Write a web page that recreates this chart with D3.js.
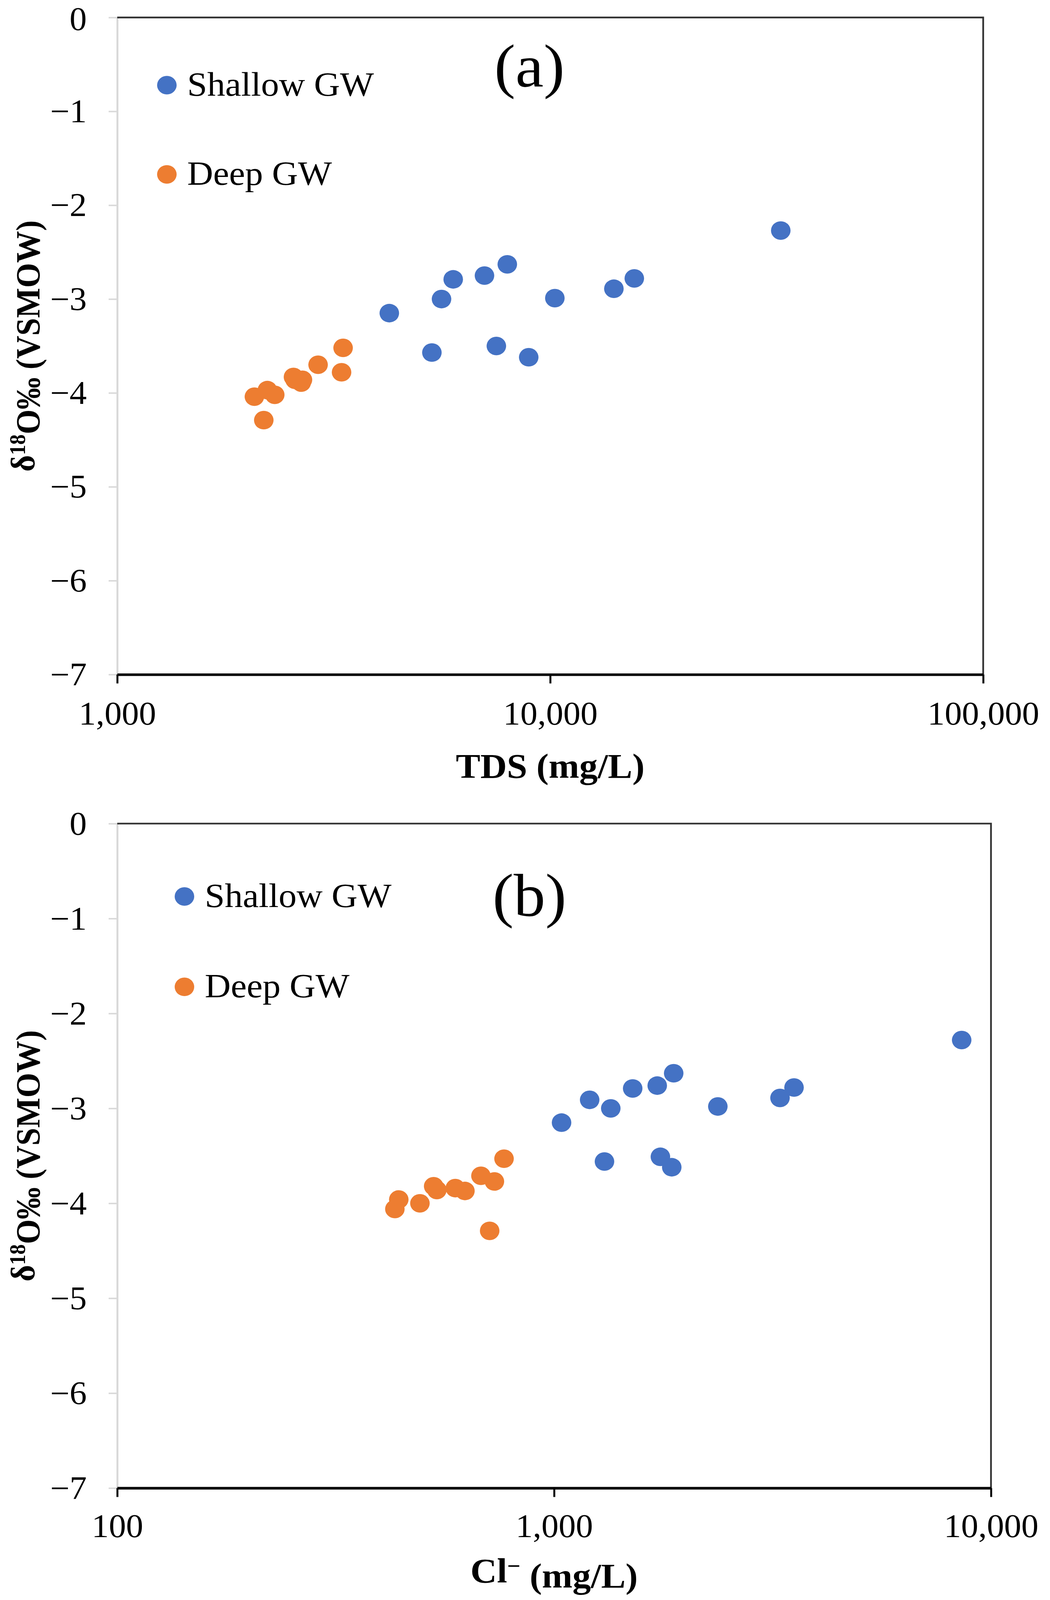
<!DOCTYPE html>
<html>
<head>
<meta charset="utf-8">
<script src="https://cdn.jsdelivr.net/npm/d3@7"></script>
<style>
  html, body { margin: 0; padding: 0; background: #fff; overflow: hidden; }
  svg { display: block; }
</style>
</head>
<body>
<div id="chart"></div>
<script>
// 分類與圖例
const seriesNames = ["Shallow GW", "Deep GW"];
const seriesColors = ["#4472C4", "#ED7D31"];

// (a) TDS (mg/L) vs δ18O
const shallowTDS = [4250, 5610, 5970, 7050, 7960, 10250, 5330, 7510, 8920, 14030, 15640, 34080];
const shallowO18a = [-3.15, -3.00, -2.79, -2.75, -2.63, -2.99, -3.57, -3.50, -3.62, -2.89, -2.78, -2.27];
const deepTDS = [2074, 2222, 2311, 2180, 2553, 2678, 2661, 2574, 2910, 3324, 3297];
const deepO18a = [-4.04, -3.97, -4.02, -4.29, -3.83, -3.86, -3.89, -3.86, -3.70, -3.52, -3.78];

// (b) Cl- (mg/L) vs δ18O
const shallowCl = [1040, 1206, 1348, 1513, 1722, 1878, 2370, 3289, 3541, 1304, 1751, 1859, 8568];
const shallowO18b = [-3.15, -2.91, -3.00, -2.79, -2.76, -2.63, -2.98, -2.89, -2.78, -3.56, -3.51, -3.62, -2.28];
const deepCl = [441, 432, 493, 530, 539, 594, 625, 680, 730, 768, 712];
const deepO18b = [-3.96, -4.06, -4.00, -3.82, -3.86, -3.84, -3.87, -3.71, -3.77, -3.53, -4.29];

// 刻度
const yTicks = [0, -1, -2, -3, -4, -5, -6, -7];
const xTicksA = [1000, 10000, 100000];
const xTicksB = [100, 1000, 10000];

const FONT = "'Liberation Serif', 'Times New Roman', serif";
const W = 2687, H = 4303;

// 視窗高度只有 4096，整張圖依視窗縮放
const svg = d3.select("#chart")
    .append("svg")
    .attr("width", window.innerWidth || W)
    .attr("height", window.innerHeight || H)
    .attr("viewBox", `0 0 ${W} ${H}`)
    .attr("preserveAspectRatio", "none");

svg.append("rect").attr("width", W).attr("height", H).attr("fill", "#fff");

function drawPanel(p) {
    const x = d3.scaleLog().domain(p.xDomain).range([p.left, p.right]);
    const y = d3.scaleLinear().domain([0, -7]).range([p.top, p.bottom]);
    const g = svg.append("g");

    // 左軸（淺灰）
    const yAxis = g.append("g")
        .attr("transform", `translate(${p.left},0)`)
        .call(d3.axisLeft(y).tickValues(yTicks).tickFormat(d3.format("d"))
            .tickSize(22).tickSizeOuter(0).tickPadding(56));
    yAxis.select(".domain").attr("stroke", "#d9d9d9").attr("stroke-width", 5);
    yAxis.selectAll(".tick line").attr("stroke", "#d9d9d9").attr("stroke-width", 4);
    yAxis.selectAll(".tick text")
        .attr("dy", d => d === 0 && p.top < 60 ? "0.38em" : "0.33em") // 最上面的 0 稍微下移，避免貼邊
        .style("font-family", FONT)
        .style("font-size", "88px")
        .attr("fill", "#000");

    // 上、右邊框
    g.append("path")
        .attr("d", `M${p.left},${p.top}H${p.right}V${p.bottom}`)
        .attr("fill", "none")
        .attr("stroke", "#333")
        .attr("stroke-width", 4.5);

    // 下軸（黑色粗線）
    const xAxis = g.append("g")
        .attr("transform", `translate(0,${p.bottom})`)
        .call(d3.axisBottom(x).tickValues(p.xTicks).tickFormat(d3.format(",")).tickSize(24).tickSizeOuter(0));
    xAxis.select(".domain").attr("stroke", "#000").attr("stroke-width", 7);
    xAxis.selectAll(".tick line").attr("stroke", "#000").attr("stroke-width", 5);
    xAxis.selectAll(".tick text")
        .attr("y", p.tickLabelY)
        .attr("dy", 0)
        .style("font-family", FONT)
        .style("font-size", "88px")
        .attr("fill", "#000");

    // 散點
    p.series.forEach((s, i) => {
        g.append("g")
            .selectAll("circle")
            .data(s.xs.map((v, j) => [v, s.ys[j]]))
            .enter()
            .append("circle")
            .attr("cx", d => x(d[0]))
            .attr("cy", d => y(d[1]))
            .attr("r", 25)
            .attr("fill", seriesColors[i]);
    });

    // 圖例
    seriesNames.forEach((name, i) => {
        const ly = p.legendY[i];
        g.append("circle")
            .attr("cx", p.legendX)
            .attr("cy", ly)
            .attr("r", 25)
            .attr("fill", seriesColors[i]);
        g.append("text")
            .attr("x", p.legendX + 52)
            .attr("y", ly + 28)
            .style("font-family", FONT)
            .style("font-size", "92px")
            .text(name);
    });

    // (a) / (b)
    g.append("text")
        .attr("x", p.tagX)
        .attr("y", p.tagY)
        .attr("text-anchor", "middle")
        .style("font-family", FONT)
        .style("font-size", "162px")
        .text(p.tag);

    // x 軸標題
    const xt = g.append("text")
        .attr("x", (p.left + p.right) / 2)
        .attr("y", p.xTitleY)
        .attr("text-anchor", "middle")
        .style("font-family", FONT)
        .style("font-size", "94px")
        .style("font-weight", "bold");
    p.xTitle(xt);

    // y 軸標題
    const yt = g.append("text")
        .attr("transform", `translate(88,${(p.top + p.bottom) / 2}) rotate(-90)`)
        .attr("text-anchor", "middle")
        .style("font-family", FONT)
        .style("font-size", "86px")
        .style("font-weight", "bold");
    yt.append("tspan").text("δ");
    yt.append("tspan").attr("dy", "-0.42em").style("font-size", "56px").text("18");
    yt.append("tspan").attr("dy", "0.42em").text("O‰ (VSMOW)");
}

drawPanel({
    xDomain: [1000, 100000], xTicks: xTicksA,
    left: 300, right: 2516, top: 47, bottom: 1814,
    tickLabelY: 135, xTitleY: 2092,
    legendX: 427, legendY: [229, 469],
    tag: "(a)", tagX: 1355, tagY: 232,
    series: [{xs: shallowTDS, ys: shallowO18a}, {xs: deepTDS, ys: deepO18a}],
    xTitle: t => t.text("TDS (mg/L)")
});

drawPanel({
    xDomain: [100, 10000], xTicks: xTicksB,
    left: 300, right: 2536, top: 2215, bottom: 4002,
    tickLabelY: 132, xTitleY: 4256,
    legendX: 472, legendY: [2411, 2654],
    tag: "(b)", tagX: 1355, tagY: 2462,
    series: [{xs: shallowCl, ys: shallowO18b}, {xs: deepCl, ys: deepO18b}],
    xTitle: t => {
        t.append("tspan").text("Cl");
        t.append("tspan").attr("dy", "-0.4em").style("font-size", "60px").text("−");
        t.append("tspan").attr("dy", "0.4em").text(" (mg/L)");
    }
});
</script>
</body>
</html>
